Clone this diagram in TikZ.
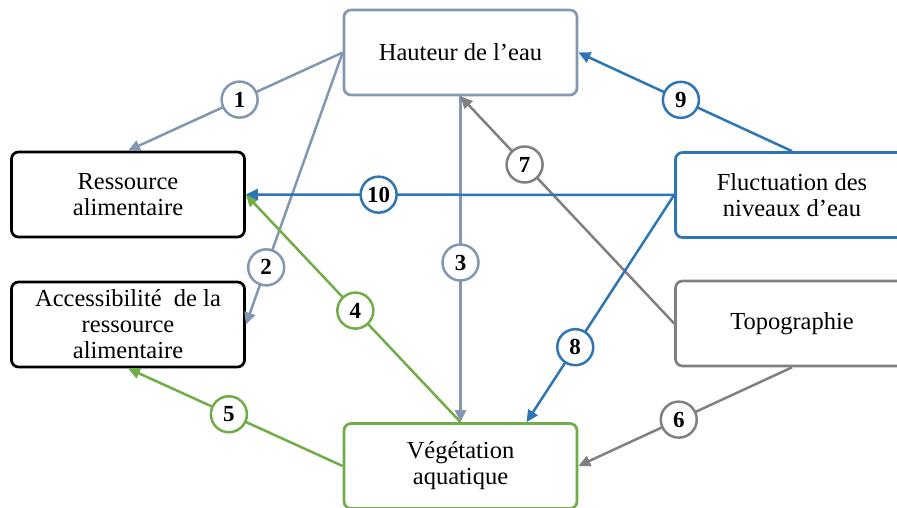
\documentclass[tikz,border=0pt]{standalone}
\usepackage{fontspec}
\setmainfont{Liberation Serif}
\usetikzlibrary{arrows.meta}
\definecolor{bleugris}{RGB}{132,151,176}
\definecolor{bleu}{RGB}{46,117,182}
\definecolor{vert}{RGB}{112,173,71}
\definecolor{gris}{RGB}{128,128,128}

\begin{document}
\begin{tikzpicture}[x=1pt, y=-1pt,
  boite/.style = {draw, rounded corners=7pt, line width=2.7pt, fill=white, align=center,
    minimum width=233pt, minimum height=85pt, inner sep=0pt, font=\fontsize{24.5}{26}\selectfont},
  num/.style = {circle, draw, fill=white, line width=2.5pt, minimum size=36pt, inner sep=0pt,
    text=black, font=\fontsize{23}{23}\selectfont\bfseries},
  fl/.style = {line width=2.5pt, -{Triangle[length=12pt,width=11pt]}}]
\useasboundingbox (0,0) rectangle (897,508);
\clip (0,0) rectangle (897,508);

% les boites
\node[boite, draw=bleugris] (hauteur) at (460.5,52.5) {Hauteur de l'eau};
\node[boite] (ressource) at (128,194.5) {Ressource\\alimentaire};
\node[boite] (acces) at (128,324.5) {Accessibilité~ de la\\ressource\\alimentaire};
\node[boite, draw=vert] (vegetation) at (460.5,466) {Végétation\\aquatique};
\node[boite, draw=bleu] (fluctuation) at (792,195) {Fluctuation des\\niveaux d'eau};
\node[boite, draw=gris] (topo) at (792,323.5) {Topographie};

% les liens
\draw[fl, bleugris] (hauteur.west) -- node[num, pos=.48] (n1) {1} (ressource.north);
\draw[fl, bleugris] (hauteur.west) -- node[num, pos=.79] (n2) {2} (acces.east);
\draw[fl, bleugris] (hauteur.south) -- node[num, pos=.51] (n3) {3} (vegetation.north);
\draw[fl, vert] (vegetation.north) -- node[num, pos=.49] (n4) {4} (ressource.east);
\draw[fl, vert] (vegetation.west) -- node[num, pos=.53] (n5) {5} (acces.south);
\draw[fl, gris] (topo.south) -- node[num, pos=.53] (n6) {6} (vegetation.east);
\draw[fl, gris] (topo.west) -- node[num, pos=.70] (n7) {7} (hauteur.south);
\draw[fl, bleu] (fluctuation.west) -- node[num, pos=.67] (n8) {8} ([xshift=66pt]vegetation.north);
\draw[fl, bleu] (fluctuation.north) -- node[num, pos=.52] (n9) {9} (hauteur.east);
\draw[fl, bleu] (fluctuation.west) -- node[num, pos=.69] (n10) {10} (ressource.east);
\end{tikzpicture}
\end{document}
